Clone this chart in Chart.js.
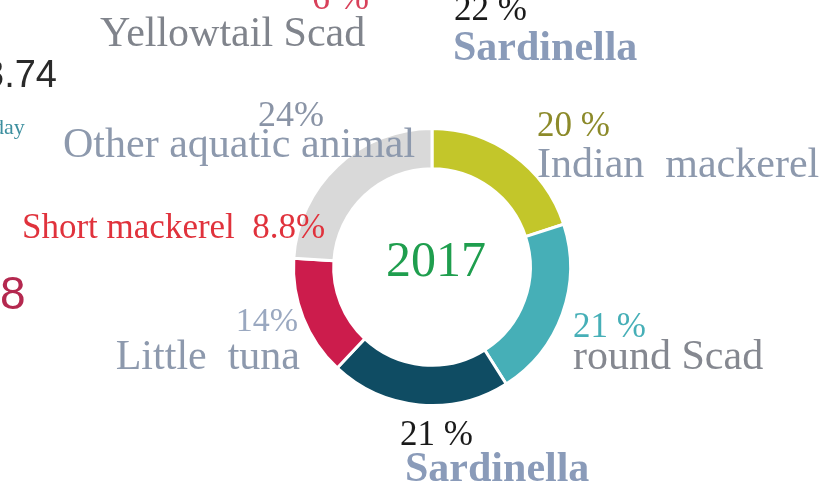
<!DOCTYPE html>
<html>
<head>
<meta charset="utf-8">
<script src="https://cdn.jsdelivr.net/npm/chart.js@4"></script>
<style>
  html, body { margin: 0; padding: 0; background: #fff; }
  #wrap { position: relative; width: 827px; height: 487px; overflow: hidden; }
</style>
</head>
<body>
<div id="wrap"><canvas id="fishChart" width="827" height="487"></canvas></div>
<script>
// catch composition 2017
const categories = ['Indian  mackerel', 'round Scad', 'Sardinella', 'Little  tuna', 'Other aquatic animal'];
const shares = [20, 21, 21, 14, 24];
const shareLabels = ['20 %', '21 %', '21 %', '14%', '24%'];
const sliceColors = ['#c3c62a', '#46afb7', '#0f4c63', '#cc1c4c', '#d9d9d9'];
const yearLabel = '2017';

// where each slice label sits
const labelLayout = [
  { x: 537, yPct: 136, yName: 177, pctFont: '35px', pctColor: '#8c8a2a', nameFont: '42px "Liberation Serif"', nameColor: '#8d99ad' },
  { x: 573, yPct: 337, yName: 369, pctFont: '35px', pctColor: '#46afb7', nameFont: '42px "Liberation Serif"', nameColor: '#858890' },
  { x: 405, yPct: 445, yName: 481, pctFont: '35px', pctColor: '#1a1a1a', nameFont: 'bold 42px "Liberation Serif"', nameColor: '#8a9bb9', pctX: 400 },
  { x: 300, yPct: 331, yName: 369, pctFont: '34px', pctColor: '#9aa8c0', nameFont: '42px "Liberation Serif"', nameColor: '#8d99ad', right: true, pctX: 298 },
  { x: 63, yPct: 126, yName: 157, pctFont: '36px', pctColor: '#8a94a6', nameFont: '42px "Liberation Serif"', nameColor: '#8d99ad', pctX: 258 }
];

// bits of the surrounding infographic that show at the edges of the crop
const extraTexts = [
  { text: '6 %', x: 312, y: 9, font: '36px "Liberation Serif"', color: '#d8405a' },
  { text: 'Yellowtail Scad', x: 100, y: 46, font: '42px "Liberation Serif"', color: '#80848c' },
  { text: '22 %', x: 454, y: 20, font: '35px "Liberation Serif"', color: '#1a1a1a' },
  { text: 'Sardinella', x: 453, y: 60, font: 'bold 42px "Liberation Serif"', color: '#8a9bb9' },
  { text: '3.74', x: -17, y: 87, font: '38px "Liberation Sans"', color: '#2a2a2a' },
  { text: 'day', x: -7, y: 134, font: '22px "Liberation Serif"', color: '#3d8f9f' },
  { text: 'Short mackerel  8.8%', x: 22, y: 238, font: '35px "Liberation Serif"', color: '#e0323c' },
  { text: '8', x: 0, y: 309, font: '46px "Liberation Sans"', color: '#b4284f' }
];

const textPlugin = {
  id: 'textPlugin',
  afterDraw(chart) {
    const ctx = chart.ctx;
    const arc = chart.getDatasetMeta(0).data[0];
    ctx.save();

    // year in the hole
    ctx.font = '50px "Liberation Serif"';
    ctx.fillStyle = '#1f9e4e';
    ctx.textAlign = 'center';
    ctx.textBaseline = 'middle';
    ctx.fillText(yearLabel, arc.x + 4, arc.y - 4);
    ctx.textBaseline = 'alphabetic';

    categories.forEach((name, i) => {
      const l = labelLayout[i];
      ctx.textAlign = l.right ? 'right' : 'left';
      ctx.font = l.pctFont + ' "Liberation Serif"';
      ctx.fillStyle = l.pctColor;
      ctx.fillText(shareLabels[i], l.pctX || l.x, l.yPct);
      ctx.font = l.nameFont;
      ctx.fillStyle = l.nameColor;
      ctx.fillText(name, l.x, l.yName);
    });

    ctx.textAlign = 'left';
    extraTexts.forEach((t) => {
      ctx.font = t.font;
      ctx.fillStyle = t.color;
      ctx.fillText(t.text, t.x, t.y);
    });
    ctx.restore();
  }
};

const ctx = document.getElementById('fishChart').getContext('2d');
new Chart(ctx, {
  type: 'doughnut',
  data: {
    labels: categories,
    datasets: [{
      data: shares,
      backgroundColor: sliceColors,
      borderColor: '#ffffff',
      borderWidth: 3,
    }],
  },
  options: {
    responsive: false,
    animation: false,
    cutout: '71%',
    layout: { padding: { top: 127, bottom: 80, left: 292, right: 255 } },
    plugins: {
      legend: { display: false },
      tooltip: { enabled: false },
    },
  },
  plugins: [textPlugin],
});
</script>
</body>
</html>
